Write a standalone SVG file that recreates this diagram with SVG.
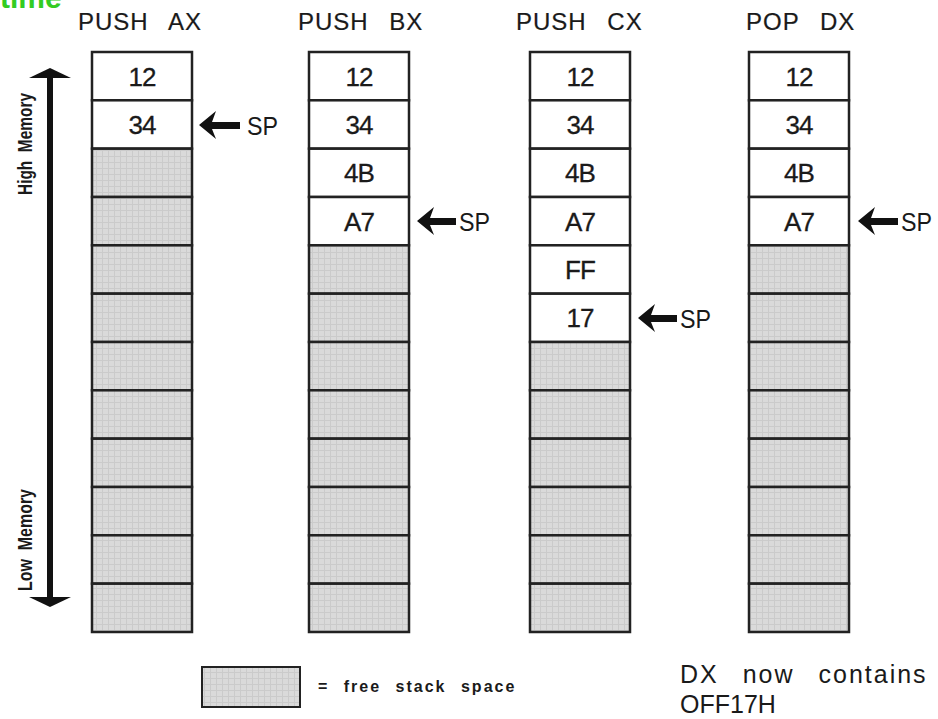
<svg xmlns="http://www.w3.org/2000/svg" width="938" height="719" viewBox="0 0 938 719">
<defs>
<pattern id="free" width="6" height="6" patternUnits="userSpaceOnUse">
<rect width="6" height="6" fill="#dadada"/>
<path d="M0 0.5H6M0.5 0V6" stroke="#cbcbcb" stroke-width="1"/>
</pattern>
<style>
text{font-family:"Liberation Sans",Arial,sans-serif;fill:#1a1a1a}
.t{font-size:24px;letter-spacing:1px;word-spacing:13px;stroke:#1a1a1a;stroke-width:0.2}
.v{font-size:26px;text-anchor:middle;letter-spacing:-1px;stroke:#1a1a1a;stroke-width:0.3}
.f{fill:url(#free);stroke:#222;stroke-width:2.5}
.w{fill:#fff;stroke:#222;stroke-width:2.5}
.sp{font-size:26px}
.arr{fill:#111}
.mem{font-size:21px;font-weight:bold}
</style>
</defs>
<rect width="938" height="719" fill="#fff"/>
<text x="0" y="8" style="font-size:30px;font-weight:bold;fill:#33cc22">time</text>

<g id="col-push-ax">
<text class="t" x="78" y="30">PUSH AX</text>
<rect class="w" x="92" y="52" width="100" height="48.3"/>
<rect class="w" x="92" y="100.3" width="100" height="48.3"/>
<rect class="f" x="92" y="148.7" width="100" height="48.3"/>
<rect class="f" x="92" y="197" width="100" height="48.3"/>
<rect class="f" x="92" y="245.3" width="100" height="48.3"/>
<rect class="f" x="92" y="293.7" width="100" height="48.3"/>
<rect class="f" x="92" y="342" width="100" height="48.3"/>
<rect class="f" x="92" y="390.3" width="100" height="48.3"/>
<rect class="f" x="92" y="438.7" width="100" height="48.3"/>
<rect class="f" x="92" y="487" width="100" height="48.3"/>
<rect class="f" x="92" y="535.3" width="100" height="48.3"/>
<rect class="f" x="92" y="583.7" width="100" height="48.3"/>
<text class="v" x="142" y="86">12</text>
<text class="v" x="142" y="134">34</text>
</g>

<g id="col-push-bx">
<text class="t" x="298" y="30">PUSH BX</text>
<rect class="w" x="309" y="52" width="100" height="48.3"/>
<rect class="w" x="309" y="100.3" width="100" height="48.3"/>
<rect class="w" x="309" y="148.7" width="100" height="48.3"/>
<rect class="w" x="309" y="197" width="100" height="48.3"/>
<rect class="f" x="309" y="245.3" width="100" height="48.3"/>
<rect class="f" x="309" y="293.7" width="100" height="48.3"/>
<rect class="f" x="309" y="342" width="100" height="48.3"/>
<rect class="f" x="309" y="390.3" width="100" height="48.3"/>
<rect class="f" x="309" y="438.7" width="100" height="48.3"/>
<rect class="f" x="309" y="487" width="100" height="48.3"/>
<rect class="f" x="309" y="535.3" width="100" height="48.3"/>
<rect class="f" x="309" y="583.7" width="100" height="48.3"/>
<text class="v" x="359" y="86">12</text>
<text class="v" x="359" y="134">34</text>
<text class="v" x="359" y="182">4B</text>
<text class="v" x="359" y="231">A7</text>
</g>

<g id="col-push-cx">
<text class="t" x="516" y="30">PUSH CX</text>
<rect class="w" x="530" y="52" width="100" height="48.3"/>
<rect class="w" x="530" y="100.3" width="100" height="48.3"/>
<rect class="w" x="530" y="148.7" width="100" height="48.3"/>
<rect class="w" x="530" y="197" width="100" height="48.3"/>
<rect class="w" x="530" y="245.3" width="100" height="48.3"/>
<rect class="w" x="530" y="293.7" width="100" height="48.3"/>
<rect class="f" x="530" y="342" width="100" height="48.3"/>
<rect class="f" x="530" y="390.3" width="100" height="48.3"/>
<rect class="f" x="530" y="438.7" width="100" height="48.3"/>
<rect class="f" x="530" y="487" width="100" height="48.3"/>
<rect class="f" x="530" y="535.3" width="100" height="48.3"/>
<rect class="f" x="530" y="583.7" width="100" height="48.3"/>
<text class="v" x="580" y="86">12</text>
<text class="v" x="580" y="134">34</text>
<text class="v" x="580" y="182">4B</text>
<text class="v" x="580" y="231">A7</text>
<text class="v" x="580" y="279">FF</text>
<text class="v" x="580" y="327">17</text>
</g>

<g id="col-pop-dx">
<text class="t" x="746" y="30">POP DX</text>
<rect class="w" x="749" y="52" width="100" height="48.3"/>
<rect class="w" x="749" y="100.3" width="100" height="48.3"/>
<rect class="w" x="749" y="148.7" width="100" height="48.3"/>
<rect class="w" x="749" y="197" width="100" height="48.3"/>
<rect class="f" x="749" y="245.3" width="100" height="48.3"/>
<rect class="f" x="749" y="293.7" width="100" height="48.3"/>
<rect class="f" x="749" y="342" width="100" height="48.3"/>
<rect class="f" x="749" y="390.3" width="100" height="48.3"/>
<rect class="f" x="749" y="438.7" width="100" height="48.3"/>
<rect class="f" x="749" y="487" width="100" height="48.3"/>
<rect class="f" x="749" y="535.3" width="100" height="48.3"/>
<rect class="f" x="749" y="583.7" width="100" height="48.3"/>
<text class="v" x="799" y="86">12</text>
<text class="v" x="799" y="134">34</text>
<text class="v" x="799" y="182">4B</text>
<text class="v" x="799" y="231">A7</text>
</g>

<g id="memory-axis">
<text class="mem" transform="translate(32,195) rotate(-90)" textLength="102" lengthAdjust="spacingAndGlyphs" xml:space="preserve">High  Memory</text>
<text class="mem" transform="translate(32,591) rotate(-90)" textLength="102" lengthAdjust="spacingAndGlyphs" xml:space="preserve">Low  Memory</text>
</g>

<g id="connectors">
<path class="arr" d="M47 76H53V600H47Z"/>
<path class="arr" d="M50 68L71 78H29Z"/>
<path class="arr" d="M50 607L71 597H29Z"/>
<path class="arr" d="M199 125L216 111L212 122H240V129H212L216 139Z"/>
<path class="arr" d="M417 221L434 207L430 218H456V225H430L434 235Z"/>
<path class="arr" d="M638 318L655 304L651 315H677V322H651L655 332Z"/>
<path class="arr" d="M858 221L875 207L871 218H898V225H871L875 235Z"/>
</g>

<g id="sp-labels">
<text class="sp" x="247" y="135" textLength="31" lengthAdjust="spacingAndGlyphs">SP</text>
<text class="sp" x="459" y="231" textLength="31" lengthAdjust="spacingAndGlyphs">SP</text>
<text class="sp" x="680" y="328" textLength="31" lengthAdjust="spacingAndGlyphs">SP</text>
<text class="sp" x="901" y="231" textLength="31" lengthAdjust="spacingAndGlyphs">SP</text>
</g>

<g id="legend">
<rect class="f" x="202" y="667" width="98" height="40" style="stroke-width:2"/>
<text x="318" y="692" style="font-size:16px;font-weight:bold;letter-spacing:2px;word-spacing:8px">= free stack space</text>
</g>

<g id="note">
<text x="680" y="683" style="font-size:25px;letter-spacing:2px;word-spacing:15px">DX now contains</text>
<text x="680" y="713" style="font-size:25px">OFF17H</text>
</g>
</svg>
